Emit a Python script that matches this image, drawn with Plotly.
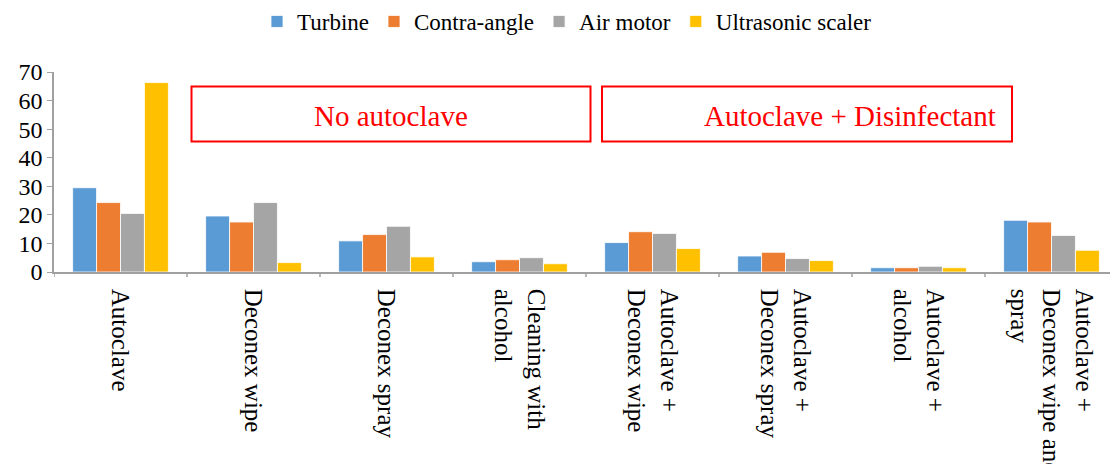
import plotly.graph_objects as go

categories = ["Autoclave", "Deconex wipe", "Deconex spray", "Cleaning with<br>alcohol",
              "Autoclave +<br>Deconex wipe", "Autoclave +<br>Deconex spray",
              "Autoclave +<br>alcohol", "Autoclave +<br>Deconex wipe and<br>spray"]
turbine = [29.5, 19.6, 10.9, 3.6, 10.3, 5.6, 1.5, 18.1]
contra_angle = [24.3, 17.5, 13.1, 4.3, 14.1, 6.9, 1.5, 17.5]
air_motor = [20.5, 24.3, 16.0, 5.0, 13.5, 4.7, 2.0, 12.8]
ultrasonic = [66.3, 3.3, 5.3, 2.9, 8.2, 4.0, 1.5, 7.6]
series_names = ["Turbine", "Contra-angle", "Air motor", "Ultrasonic scaler"]
colors = ["#5B9BD5", "#ED7D31", "#A5A5A5", "#FFC000"]
y_ticks = [0, 10, 20, 30, 40, 50, 60, 70]

FONT = "Liberation Serif"
W, H = 1110, 464
ML, MR, MT, MB = 54, 0, 72, 192
cat_px = 133.0
plot_w = W - ML - MR
x_max = -0.5 + plot_w / cat_px
ppu = (H - MT - MB) / 70.0

def px_to_x(px):
    return (px - ML) / cat_px - 0.5

def py_to_y(py):
    return (H - MB - py) / ppu

fig = go.Figure()
xs = list(range(len(categories)))
for name, vals, col in zip(series_names, [turbine, contra_angle, air_motor, ultrasonic], colors):
    fig.add_trace(go.Bar(x=xs, y=vals, name=name, marker=dict(color=col, line=dict(color="white", width=0.8))))

fig.update_layout(
    width=W, height=H,
    margin=dict(l=ML, r=MR, t=MT, b=MB, pad=0, autoexpand=False),
    barmode="group", bargap=0.28, bargroupgap=0,
    plot_bgcolor="white", paper_bgcolor="white",
    font=dict(family=FONT, size=20, color="black"),
    legend=dict(orientation="h", x=(567 - ML) / plot_w, xanchor="center", y=1.0, yanchor="top",
                yref="container", font=dict(family=FONT, size=23, color="black"),
                itemwidth=30, traceorder="normal", tracegroupgap=0),
    xaxis=dict(range=[-0.5, x_max], tickmode="array", tickvals=xs, ticktext=categories,
               tickangle=90, showline=True, linecolor="#A0A0A0", linewidth=1.5,
               ticks="", showgrid=False, zeroline=False, automargin=False,
               ticklabelstandoff=10,
               tickfont=dict(family=FONT, size=25, color="black")),
    yaxis=dict(range=[0, 70], tickvals=y_ticks, showline=True, linecolor="#A0A0A0",
               linewidth=1.5, ticks="outside", ticklen=5, tickcolor="#A0A0A0",
               showgrid=False, zeroline=False, automargin=False,
               tickfont=dict(family=FONT, size=24, color="black")),
    showlegend=True,
)

# category boundary ticks on x axis
for i in range(len(categories)):
    fig.add_shape(type="line", xref="x", yref="paper", x0=i - 0.5, x1=i - 0.5, y0=0, y1=-0.025,
                  line=dict(color="#A0A0A0", width=1.5))

# annotation boxes
boxes = [
    (191.5, 590.5, "No autoclave", 390.5),
    (602, 1012, "Autoclave + Disinfectant", 850),
]
for x0, x1, txt, tx in boxes:
    fig.add_shape(type="rect", xref="x", yref="y", x0=px_to_x(x0), x1=px_to_x(x1),
                  y0=py_to_y(141.5), y1=py_to_y(86.5), line=dict(color="#FF0000", width=2),
                  fillcolor="rgba(0,0,0,0)")
    fig.add_annotation(x=px_to_x(tx), y=py_to_y(116), xref="x", yref="y", text=txt,
                       showarrow=False, font=dict(family=FONT, size=29, color="#FF0000"))

fig.write_html("out.html", config={"displayModeBar": False},
               post_script="document.body.style.margin='0';")
